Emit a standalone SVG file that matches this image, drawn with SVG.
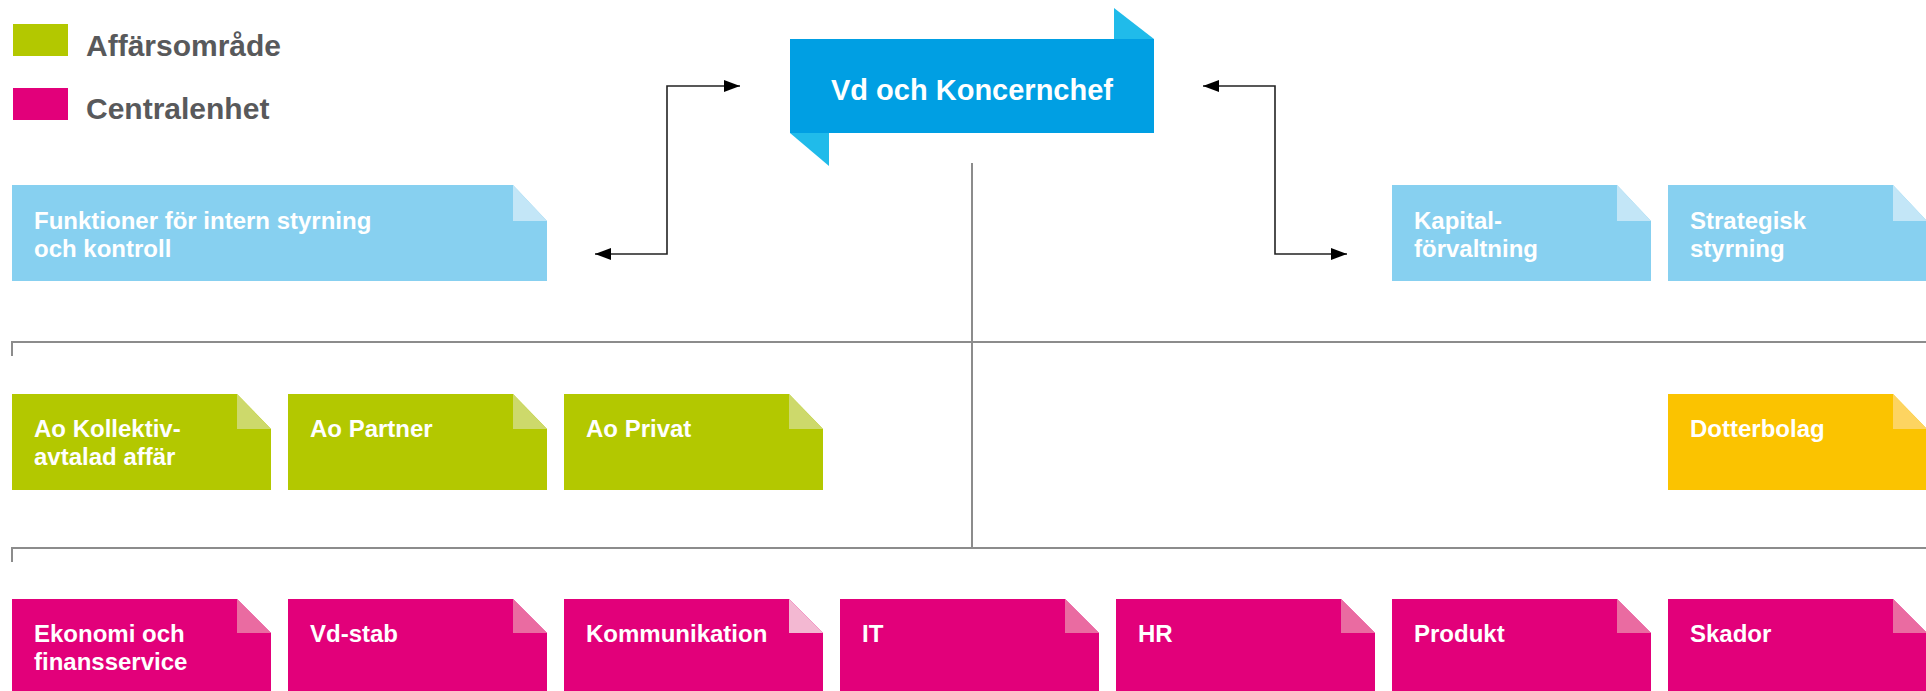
<svg xmlns="http://www.w3.org/2000/svg" width="1926" height="691" viewBox="0 0 1926 691">
<defs>
<style>
.lbl{font-family:"Liberation Sans",Arial,sans-serif;font-weight:bold;font-size:24px;fill:#ffffff}
.leg{font-family:"Liberation Sans",Arial,sans-serif;font-weight:bold;font-size:30px;fill:#58595b}
.tree{stroke:#8c8c8c;stroke-width:2;fill:none}
.conn{stroke:#222222;stroke-width:1.6;fill:none;marker-start:url(#ah);marker-end:url(#ah)}
.blue{fill:#87d0f0}.blueF{fill:#c3e6f7}
.green{fill:#b3c800}.greenF{fill:#cdd96b}
.yellow{fill:#fbc300}.yellowF{fill:#fdd461}
.pink{fill:#e2007a}.pinkF{fill:#ea6ba1}.pinkF2{fill:#f3b8d2}
</style>
<marker id="ah" markerUnits="userSpaceOnUse" markerWidth="16" markerHeight="12" refX="16" refY="6" orient="auto-start-reverse">
<path d="M0,0 L16,6 L0,12 z" fill="#000000"/>
</marker>
</defs>
<rect width="1926" height="691" fill="#ffffff"/>

<g id="legend">
<rect x="13" y="24" width="55" height="32" fill="#b3c800"/>
<text class="leg" x="86" y="56">Affärsområde</text>
<rect x="13" y="88" width="55" height="32" fill="#e2007a"/>
<text class="leg" x="86" y="119">Centralenhet</text>
</g>

<g id="connectors">
<path class="tree" d="M972,163 V548"/>
<path class="tree" d="M12,356 V342 H1926"/>
<path class="tree" d="M12,562 V548 H1926"/>
<path class="conn" d="M595,254 H667 V86 H740"/>
<path class="conn" d="M1203,86 H1275 V254 H1347"/>
</g>

<g id="vd">
<polygon points="1114,8 1154,39 1114,39" fill="#20bbea"/>
<polygon points="790,133 829,133 829,166" fill="#20bbea"/>
<rect x="790" y="39" width="364" height="94" fill="#009fe3"/>
<text x="972" y="100" text-anchor="middle" font-family="Liberation Sans, Arial, sans-serif" font-weight="bold" font-size="29" fill="#ffffff">Vd och Koncernchef</text>
</g>

<g id="funktioner">
<polygon class="blue" points="12,185 513,185 547,221 547,281 12,281"/>
<polygon class="blueF" points="513,185 547,221 513,221"/>
<text class="lbl" x="34" y="229">Funktioner för intern styrning</text>
<text class="lbl" x="34" y="257">och kontroll</text>
</g>

<g id="kapital">
<polygon class="blue" points="1392,185 1617,185 1651,221 1651,281 1392,281"/>
<polygon class="blueF" points="1617,185 1651,221 1617,221"/>
<text class="lbl" x="1414" y="229">Kapital-</text>
<text class="lbl" x="1414" y="257">förvaltning</text>
</g>

<g id="strategisk">
<polygon class="blue" points="1668,185 1893,185 1927,221 1927,281 1668,281"/>
<polygon class="blueF" points="1893,185 1927,221 1893,221"/>
<text class="lbl" x="1690" y="229">Strategisk</text>
<text class="lbl" x="1690" y="257">styrning</text>
</g>

<g id="ao-kollektiv">
<polygon class="green" points="12,394 237,394 271,429 271,490 12,490"/>
<polygon class="greenF" points="237,394 271,429 237,429"/>
<text class="lbl" x="34" y="437">Ao Kollektiv-</text>
<text class="lbl" x="34" y="465">avtalad affär</text>
</g>

<g id="ao-partner">
<polygon class="green" points="288,394 513,394 547,429 547,490 288,490"/>
<polygon class="greenF" points="513,394 547,429 513,429"/>
<text class="lbl" x="310" y="437">Ao Partner</text>
</g>

<g id="ao-privat">
<polygon class="green" points="564,394 789,394 823,429 823,490 564,490"/>
<polygon class="greenF" points="789,394 823,429 789,429"/>
<text class="lbl" x="586" y="437">Ao Privat</text>
</g>

<g id="dotterbolag">
<polygon class="yellow" points="1668,394 1893,394 1927,429 1927,490 1668,490"/>
<polygon class="yellowF" points="1893,394 1927,429 1893,429"/>
<text class="lbl" x="1690" y="437">Dotterbolag</text>
</g>

<g id="ekonomi">
<polygon class="pink" points="12,599 237,599 271,633 271,695 12,695"/>
<polygon class="pinkF" points="237,599 271,633 237,633"/>
<text class="lbl" x="34" y="642">Ekonomi och</text>
<text class="lbl" x="34" y="670">finansservice</text>
</g>

<g id="vd-stab">
<polygon class="pink" points="288,599 513,599 547,633 547,695 288,695"/>
<polygon class="pinkF" points="513,599 547,633 513,633"/>
<text class="lbl" x="310" y="642">Vd-stab</text>
</g>

<g id="kommunikation">
<polygon class="pink" points="564,599 789,599 823,633 823,695 564,695"/>
<polygon class="pinkF2" points="789,599 823,633 789,633"/>
<text class="lbl" x="586" y="642">Kommunikation</text>
</g>

<g id="it">
<polygon class="pink" points="840,599 1065,599 1099,633 1099,695 840,695"/>
<polygon class="pinkF" points="1065,599 1099,633 1065,633"/>
<text class="lbl" x="862" y="642">IT</text>
</g>

<g id="hr">
<polygon class="pink" points="1116,599 1341,599 1375,633 1375,695 1116,695"/>
<polygon class="pinkF" points="1341,599 1375,633 1341,633"/>
<text class="lbl" x="1138" y="642">HR</text>
</g>

<g id="produkt">
<polygon class="pink" points="1392,599 1617,599 1651,633 1651,695 1392,695"/>
<polygon class="pinkF" points="1617,599 1651,633 1617,633"/>
<text class="lbl" x="1414" y="642">Produkt</text>
</g>

<g id="skador">
<polygon class="pink" points="1668,599 1893,599 1927,633 1927,695 1668,695"/>
<polygon class="pinkF" points="1893,599 1927,633 1893,633"/>
<text class="lbl" x="1690" y="642">Skador</text>
</g>
</svg>
